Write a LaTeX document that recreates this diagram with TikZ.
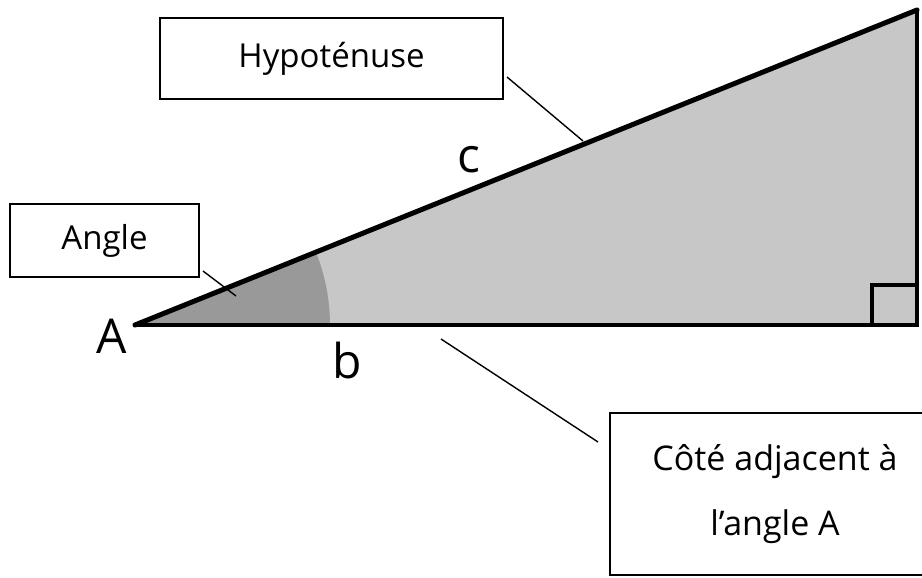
\documentclass[tikz,border=0pt]{standalone}
\usepackage{fontspec}
\setmainfont{Open Sans}
\usetikzlibrary{positioning}

\begin{document}
\begin{tikzpicture}[
 x=1pt,y=-1pt,
 every node/.style={font=\fontsize{33}{38}\selectfont},
 lbl/.style={draw,line width=1.6pt,fill=white,align=center,inner sep=0pt},
 side/.style={font=\fontsize{48}{48}\selectfont,inner sep=0pt},
 conn/.style={line width=1.4pt}
]
\useasboundingbox (0,0) rectangle (922,578);
\coordinate (A) at (135,325);
\coordinate (C) at (917,325);
\coordinate (B) at (917,10);
% triangle and angle
\fill[black!22] (A)--(C)--(B)--cycle;
\fill[black!40] (A)--++(195,0) arc[start angle=0,end angle=-21.94,radius=195]--cycle;
\draw[line width=3.5pt] (A)--(C)--(B);
\draw[line width=5pt,line cap=round] (A)--(B);
\draw[line width=3.5pt] (C) ++(-45,0) |- ++(45,-40);
% boxes
\node[lbl,minimum width=343pt,minimum height=81pt] (hyp) at (331.5,58.5) {Hypoténuse};
\node[lbl,minimum width=189pt,minimum height=73pt] (angle) at (104.5,240.5) {Angle};
\node[lbl,minimum width=330pt,minimum height=162pt,font=\fontsize{34}{65}\selectfont] (adj) at (775,494) {Côté adjacent à\\l’angle A};
% side letters
\node[side] (lA) at (112,336) {A};
\node[side] (lb) at (347,360) {b};
\node[side] (lc) at (469,160) {c};
% connectors
\coordinate (hypFrom) at (507,77);
\coordinate (hypTo) at (583,141);
\coordinate (angFrom) at (203,271);
\coordinate (angTo) at (236,296);
\coordinate (adjFrom) at (598,442);
\coordinate (adjTo) at (441,339);
\draw[conn] (hypFrom)--(hypTo);
\draw[conn] (angFrom)--(angTo);
\draw[conn] (adjFrom)--(adjTo);
\end{tikzpicture}
\end{document}
